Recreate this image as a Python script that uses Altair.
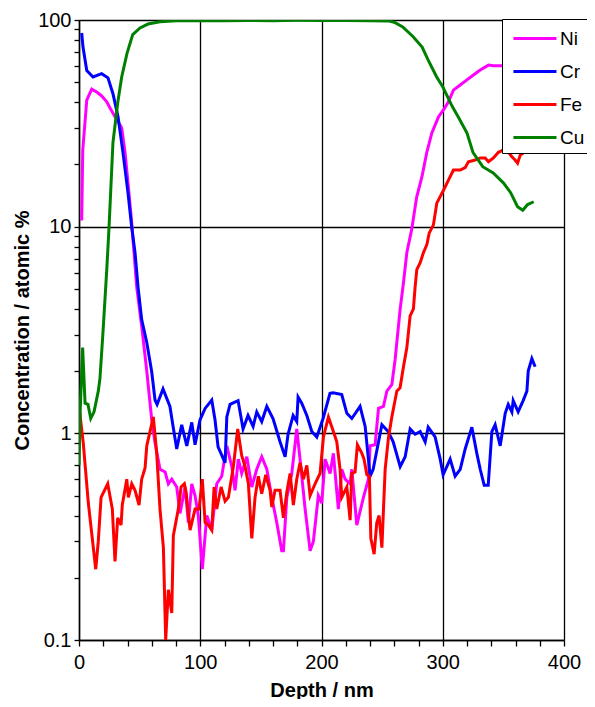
import altair as alt
import pandas as pd

elements = ["Ni", "Cr", "Fe", "Cu"]
colors = ["#FF00FF", "#0000FF", "#FF0000", "#008000"]

# (depth nm, concentration atomic %)
ni_profile = [
    (2.2, 10.7), (3.1, 23.5), (6.4, 41), (10.5, 46.3), (14.6, 44.8), (18.7, 42.9),
    (22.9, 40.2), (25.6, 37.5), (29.7, 34), (35.2, 30.1), (38.0, 22.8), (40.7, 15.6),
    (43.5, 10.4), (47.6, 5.1), (51.7, 3.3), (55.9, 2.0), (60.0, 1.16), (62.7, 0.9),
    (66.8, 0.67), (71.0, 0.65), (73.7, 0.57), (76.5, 0.6), (80.6, 0.55), (83.3, 0.41),
    (87.5, 0.55), (90.2, 0.37), (93.0, 0.57), (95.7, 0.5), (98.4, 0.4), (101.7, 0.22),
    (105.4, 0.4), (109.5, 0.34), (113.6, 0.57), (117.7, 0.62), (121.9, 0.87), (126.0, 0.69),
    (128.7, 0.53), (131.4, 0.75), (134.2, 0.64), (138.4, 0.77), (142.5, 0.55), (146.6, 0.67),
    (150.7, 0.77), (154.9, 0.67), (159.0, 0.49), (163.1, 0.37), (167.2, 0.27), (168.6, 0.27),
    (171.4, 0.49), (175.5, 0.64), (179.6, 1.05), (182.3, 0.75), (186.5, 0.43), (190.6, 0.27),
    (193.3, 0.30), (197.4, 0.5), (200.2, 0.46), (203.0, 0.75), (207.1, 0.64), (209.8, 0.8),
    (213.9, 0.43), (216.7, 0.67), (219.5, 0.6), (223.6, 0.57), (225.0, 0.67), (229.1, 0.36),
    (234.6, 0.49), (238.7, 0.6), (240.1, 0.87), (244.2, 0.88), (247.0, 1.32), (251.1, 1.35),
    (253.9, 1.6), (258.0, 1.72), (260.7, 2.27), (264.8, 3.96), (267.6, 5.35), (270.4, 7.5),
    (274.4, 9.7), (278.5, 13.9), (282.8, 17.4), (286.8, 22.8), (291.0, 28.4), (296.5, 34),
    (300.6, 36.7), (304.7, 40.2), (308.8, 45.8), (314.4, 48.5), (319.9, 51.3), (325.3, 54.2),
    (330.9, 57.3), (337.7, 60.5), (341.8, 60), (348.7, 60), (360.0, 60), (372.0, 59),
]

cr_profile = [
    (2.2, 86.5), (3.3, 74), (6.4, 57), (11.6, 53), (18.7, 55), (23.9, 52.5), (28.0, 44),
    (32.2, 34), (36.3, 22.8), (40.4, 14.6), (43.5, 9.9), (46.2, 7.5), (48.7, 5.1),
    (51.7, 3.55), (55.9, 2.75), (60.0, 1.98), (62.7, 1.45), (64.4, 1.38), (69.3, 1.64),
    (75.0, 1.35), (77.6, 1.08), (80.6, 0.84), (84.7, 1.1), (88.9, 0.87), (93.0, 1.13),
    (95.7, 0.88), (99.8, 1.16), (104.0, 1.32), (109.5, 1.45), (112.2, 1.16), (114.7, 0.86),
    (120.5, 0.72), (121.9, 1.2), (124.6, 1.38), (131.2, 1.44), (135.3, 1.05), (139.4, 1.22),
    (143.6, 1.08), (146.6, 1.27), (150.7, 1.14), (154.9, 1.35), (160.0, 1.18), (165.8, 0.91),
    (170.0, 0.77), (172.4, 0.99), (176.6, 1.22), (179.6, 1.14), (180.7, 1.5), (183.7, 1.4),
    (187.9, 1.22), (192.0, 1.02), (196.1, 0.96), (201.3, 1.18), (207.0, 1.56), (209.6, 1.57),
    (216.7, 1.54), (220.9, 1.25), (225.0, 1.18), (231.8, 1.35), (236.0, 1.08), (240.1, 0.62),
    (242.6, 0.67), (249.8, 1.1), (255.0, 1.02), (259.1, 0.91), (264.9, 0.69), (269.0, 0.77),
    (273.1, 1.05), (277.2, 0.99), (281.4, 1.02), (285.5, 0.91), (288.0, 1.07), (293.7, 0.96),
    (297.9, 0.75), (300.3, 0.63), (306.1, 0.75), (310.2, 0.62), (314.4, 0.67), (318.5, 0.84),
    (324.0, 1.07), (328.1, 0.8), (330.9, 0.67), (334.2, 0.56), (337.5, 0.56), (340.5, 1.02),
    (343.2, 1.1), (347.4, 0.87), (351.5, 1.25), (354.0, 1.38), (357.0, 1.27), (358.1, 1.44),
    (362.2, 1.27), (366.3, 1.44), (369.4, 1.6), (370.5, 2.0), (373.5, 2.3), (376.2, 2.1),
]

fe_profile = [
    (0.5, 1.28), (3.5, 0.9), (7.7, 0.46), (13.8, 0.22), (15.9, 0.3), (18.2, 0.49),
    (23.7, 0.57), (27.5, 0.43), (29.7, 0.24), (31.9, 0.39), (34.7, 0.36), (35.7, 0.45),
    (39.4, 0.6), (40.7, 0.49), (43.5, 0.57), (46.2, 0.53), (49.5, 0.45), (51.7, 0.6),
    (54.5, 0.68), (55.9, 0.87), (61.3, 1.2), (64.1, 0.8), (66.8, 0.43), (69.6, 0.28),
    (71.5, 0.1), (73.7, 0.175), (76.5, 0.135), (77.8, 0.32), (81.9, 0.43), (84.2, 0.55),
    (86.9, 0.57), (88.3, 0.52), (91.6, 0.34), (95.7, 0.43), (99.0, 0.43), (101.7, 0.6),
    (104.0, 0.37), (106.7, 0.36), (109.5, 0.34), (111.4, 0.55), (113.6, 0.43), (117.2, 0.55),
    (120.5, 0.47), (123.2, 0.49), (127.3, 0.69), (130.9, 1.05), (134.2, 0.78), (137.0, 0.69),
    (139.7, 0.57), (142.5, 0.31), (145.2, 0.49), (147.9, 0.62), (150.7, 0.51), (154.0, 0.63),
    (157.6, 0.53), (159.0, 0.44), (161.7, 0.53), (165.8, 0.53), (168.6, 0.39), (171.4, 0.52),
    (174.1, 0.64), (176.8, 0.45), (179.6, 0.6), (182.3, 0.72), (185.1, 0.6), (187.9, 0.7),
    (190.6, 0.5), (194.7, 0.57), (198.8, 0.64), (201.6, 0.96), (205.7, 1.2), (209.8, 1.02),
    (212.6, 0.91), (215.3, 0.67), (216.7, 0.49), (220.9, 0.55), (223.6, 0.38), (225.0, 0.64),
    (227.7, 0.65), (229.6, 0.88), (233.3, 0.8), (235.1, 0.75), (237.4, 0.63), (239.5, 0.62),
    (240.7, 0.31), (243.4, 0.26), (245.6, 0.37), (247.5, 0.4), (249.8, 0.28), (252.5, 0.67),
    (255.2, 0.95), (258.0, 1.2), (262.1, 1.6), (264.8, 1.66), (267.6, 2.1), (270.4, 2.6),
    (273.1, 3.7), (275.8, 4.0), (277.2, 5.1), (278.6, 6.2), (281.4, 6.7), (284.1, 7.5),
    (286.9, 8.2), (288.8, 9.3), (292.3, 10.2), (295.1, 13), (300.6, 15), (304.7, 16.8),
    (308.8, 18.8), (314.4, 18.8), (318.5, 19.3), (321.2, 20.6), (326.7, 21), (330.9, 21.5),
    (335.0, 21.5), (337.7, 20.6), (341.8, 21.5), (345.9, 22.9), (350.1, 23.5), (354.2, 22.9),
    (357.0, 21.8), (359.7, 21), (361.7, 20.3), (363.9, 22.2), (366.7, 22.8), (369.4, 23),
]

cu_profile = [
    (0.0, 0.7), (1.0, 1.3), (3.0, 2.6), (5.0, 1.4), (7.4, 1.38), (9.7, 1.18), (12.4, 1.27),
    (15.9, 1.6), (17.3, 1.85), (19.8, 3.1), (22.9, 6.2), (24.8, 10), (28.0, 25.5),
    (32.0, 40), (35.2, 53), (39.6, 69), (44.3, 85), (50.3, 91.5), (56.9, 95.6), (66.8, 98),
    (80, 99.2), (100, 99.5), (120, 99.2), (140, 99.5), (160, 99.3), (180, 99.6),
    (200, 99.4), (220, 99.5), (240, 99.3), (255, 99.0), (260, 97.5), (267, 92.5),
    (275.6, 83), (283, 74), (288, 64), (295, 53), (300, 47.5), (308, 38), (312.7, 34),
    (320, 28.4), (325, 22.8), (333, 19.5), (341.6, 18.2), (350, 16.3), (356, 14.6),
    (361.7, 12.5), (366, 12), (370, 12.8), (375, 13.2),
]

x_ticks = list(range(0, 401, 20))
y_ticks = [round(m * 10 ** e, 6) for e in (-1, 0, 1) for m in range(1, 10)] + [100]

rows = []
for name, prof in zip(elements, [ni_profile, cr_profile, fe_profile, cu_profile]):
    for i, (d, c) in enumerate(prof):
        rows.append({"element": name, "depth": d, "conc": c, "order": i})
df = pd.DataFrame(rows)

FONT = "Liberation Sans"

x_axis = alt.Axis(
    values=x_ticks,
    labelExpr="datum.value % 100 === 0 ? datum.label : ''",
    grid=True,
    gridColor="black",
    gridWidth=1.3,
    gridOpacity={"condition": {"test": "datum.value % 100 === 0", "value": 1}, "value": 0},
    tickColor="black",
    tickSize=6,
    tickWidth=1.3,
    domainColor="black",
    domainWidth=1.5,
    labelFont=FONT,
    labelFontSize=20,
    labelColor="black",
    labelPadding=6,
    labelFlush=False,
    labelOverlap=False,
    title="Depth / nm",
    titleFont=FONT,
    titleFontSize=20,
    titleFontWeight="bold",
    titleColor="black",
    titleBaseline="middle",
    titleY=50,
)

y_axis = alt.Axis(
    values=y_ticks,
    format="~g",
    labelExpr="indexof(['0.1','1','10','100'], datum.label) >= 0 ? datum.label : ''",
    grid=True,
    gridColor="black",
    gridWidth=1.3,
    gridOpacity={"condition": {"test": "indexof([0.1, 1, 10, 100], datum.value) >= 0", "value": 1}, "value": 0},
    tickColor="black",
    tickSize=5,
    tickWidth=1.3,
    domainColor="black",
    domainWidth=1.5,
    labelFont=FONT,
    labelFontSize=20,
    labelColor="black",
    labelPadding=3,
    labelOverlap=False,
    labelFlush=False,
    title="Concentration / atomic %",
    titleFont=FONT,
    titleFontSize=20,
    titleFontWeight="bold",
    titleColor="black",
    titleAngle=270,
    titleAlign="center",
    titleBaseline="middle",
    titleX=-57,
    titleY=310,
)

legend = alt.Legend(
    title=None,
    orient="none",
    legendX=423,
    legendY=-1,
    padding=5,
    strokeColor="black",
    fillColor="white",
    symbolType="M-0.62,0H2.69",
    symbolSize=676,
    symbolStrokeWidth=3,
    labelFont=FONT,
    labelFontSize=19,
    labelColor="black",
    labelOffset=24,
    rowPadding=8,
    labelExpr="datum.label + '\u00a0\u00a0\u00a0\u00a0'",
)

chart = (
    alt.Chart(df)
    .mark_line(strokeWidth=3, clip=True)
    .encode(
        x=alt.X("depth:Q", scale=alt.Scale(domain=[0, 400], nice=False, zero=False), axis=x_axis),
        y=alt.Y("conc:Q", scale=alt.Scale(type="log", domain=[0.1, 100], nice=False), axis=y_axis),
        color=alt.Color("element:N", scale=alt.Scale(domain=elements, range=colors), legend=legend),
        order="order:Q",
    )
    .properties(
        width=485,
        height=620,
        autosize=alt.AutoSizeParams(type="none"),
        padding={"left": 71, "top": 12, "right": 23, "bottom": 59},
    )
    .configure_view(stroke="black", strokeWidth=1.5)
    .configure(background="white")
)

chart.save("out.html", embed_options={"renderer": "svg", "actions": False})
